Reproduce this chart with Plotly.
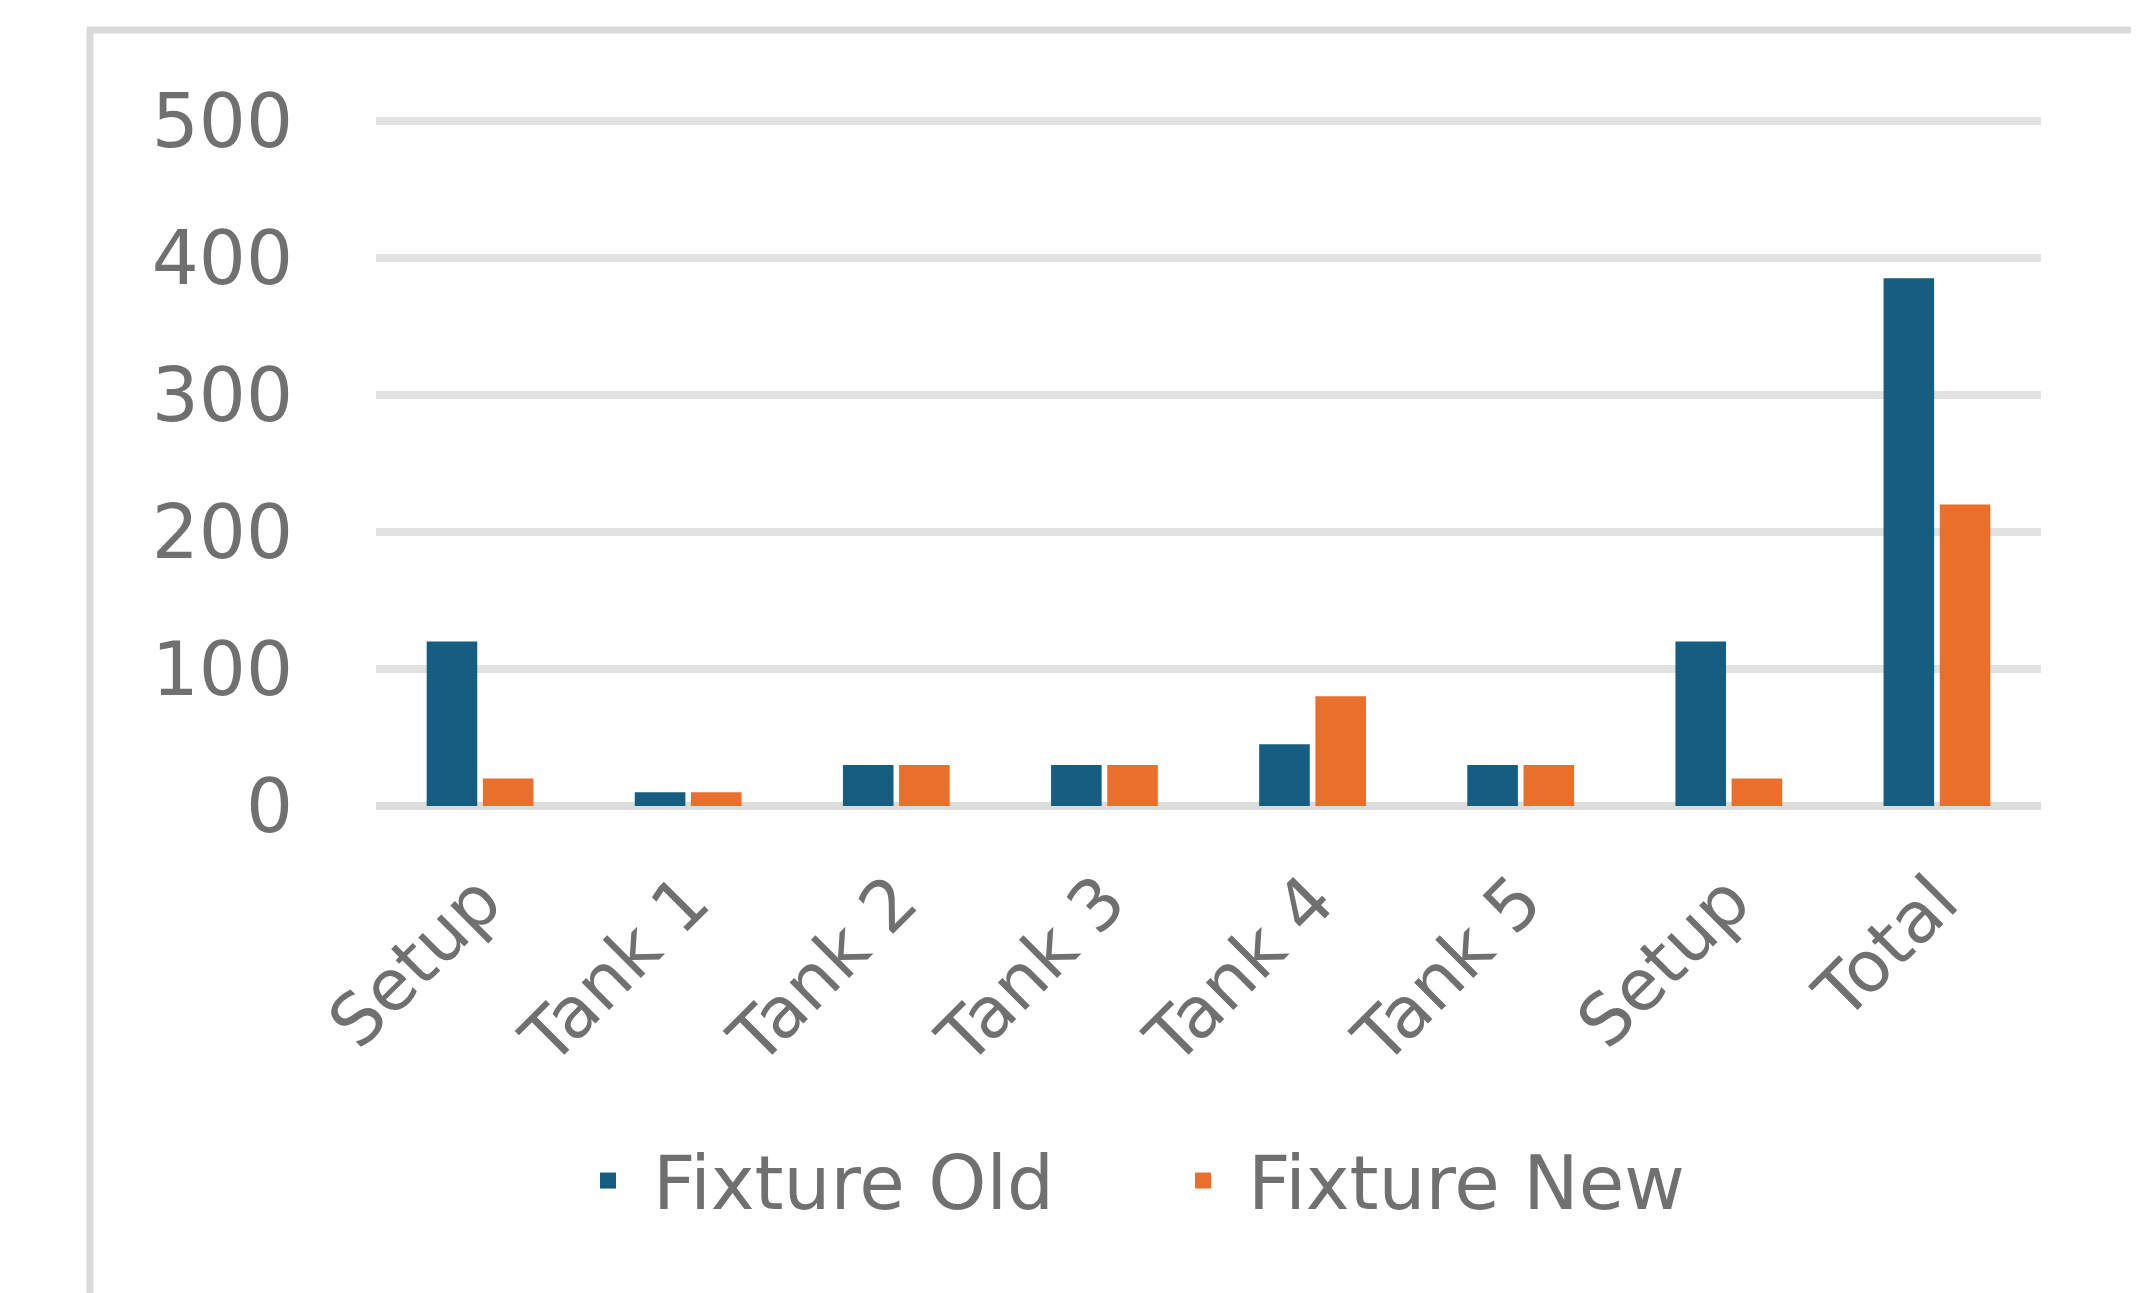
import plotly.graph_objects as go

categories = ["Setup", "Tank 1", "Tank 2", "Tank 3", "Tank 4", "Tank 5", "Setup", "Total"]
fixture_old = [120, 10, 30, 30, 45, 30, 120, 385]
fixture_new = [20, 10, 30, 30, 80, 30, 20, 220]
y_ticks = [0, 100, 200, 300, 400, 500]

positions = list(range(len(categories)))

OLD = "#165D82"
NEW = "#EA6F2D"
TXT = "#707070"
FONT = "DejaVu Sans"
FS = 74

fig = go.Figure()
fig.add_trace(go.Bar(x=positions, y=fixture_old, name="Fixture Old", legendgroup="old", showlegend=False,
                     marker=dict(color=OLD, line=dict(width=0))))
fig.add_trace(go.Bar(x=positions, y=fixture_new, name="Fixture New", legendgroup="new", showlegend=False,
                     marker=dict(color=NEW, line=dict(width=0))))
# legend entries (square swatches)
fig.add_trace(go.Scatter(x=[None], y=[None], mode="markers", name="Fixture Old", legendgroup="old",
                         marker=dict(symbol="square", size=40, color=OLD)))
fig.add_trace(go.Scatter(x=[None], y=[None], mode="markers", name="Fixture New", legendgroup="new",
                         marker=dict(symbol="square", size=40, color=NEW)))

W, H = 2139, 1293
L, R, T, B = 368, 106, 110, 495
PW, PH = W - L - R, H - T - B

fig.update_layout(
    width=W, height=H,
    margin=dict(l=L, r=R, t=T, b=B, autoexpand=False),
    paper_bgcolor="white", plot_bgcolor="white",
    barmode="group", bargap=0.46, bargroupgap=0.1,
    font=dict(family=FONT, size=FS, color=TXT),
    showlegend=True,
    legend=dict(orientation="h", x=(555 - L) / PW, xanchor="left", y=-0.545, yanchor="middle",
                font=dict(family=FONT, size=FS, color=TXT), itemwidth=80, itemsizing="trace",
                entrywidth=500, entrywidthmode="pixels",
                bgcolor="rgba(0,0,0,0)"),
    xaxis=dict(tickmode="array", tickvals=positions, ticktext=categories,
               range=[-0.5, len(categories) - 0.5], tickangle=-45,
               showgrid=False, zeroline=False, showline=False, ticks="",
               ticklabelstandoff=38,
               tickfont=dict(family=FONT, size=71, color=TXT)),
    yaxis=dict(range=[0, 502], tickmode="array", tickvals=y_ticks,
               showgrid=True, gridcolor="#e2e2e2", gridwidth=8,
               zeroline=True, zerolinecolor="#dcdcdc", zerolinewidth=8,
               showline=False, ticks="", ticklabelstandoff=82,
               tickfont=dict(family=FONT, size=FS, color=TXT)),
    shapes=[dict(type="rect", xref="paper", yref="paper",
                 x0=(82 - L) / PW, x1=(2136 - L) / PW,
                 y0=-1.0, y1=1 + (T - 22) / PH,
                 line=dict(color="#dadada", width=7), fillcolor="rgba(0,0,0,0)", layer="below")],
)

fig.write_html("out.html")
